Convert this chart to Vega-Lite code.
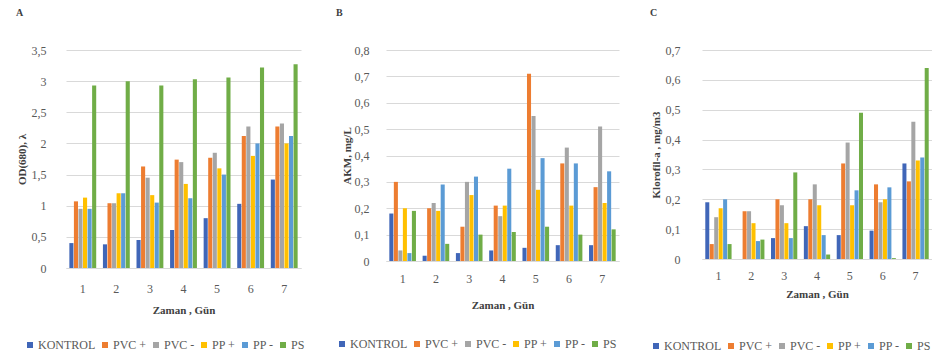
{
  "$schema": "https://vega.github.io/schema/vega-lite/v6.json",
  "padding": {"left": 16, "top": 8, "right": 0, "bottom": 0},
  "spacing": 31,
  "datasets": {
    "all": [
      {"p":"A","d":1,"s":"KONTROL","v":0.4},{"p":"A","d":1,"s":"PVC +","v":1.07},{"p":"A","d":1,"s":"PVC -","v":0.95},{"p":"A","d":1,"s":"PP +","v":1.13},{"p":"A","d":1,"s":"PP -","v":0.95},{"p":"A","d":1,"s":"PS","v":2.93},
      {"p":"A","d":2,"s":"KONTROL","v":0.38},{"p":"A","d":2,"s":"PVC +","v":1.04},{"p":"A","d":2,"s":"PVC -","v":1.04},{"p":"A","d":2,"s":"PP +","v":1.2},{"p":"A","d":2,"s":"PP -","v":1.2},{"p":"A","d":2,"s":"PS","v":3.0},
      {"p":"A","d":3,"s":"KONTROL","v":0.45},{"p":"A","d":3,"s":"PVC +","v":1.63},{"p":"A","d":3,"s":"PVC -","v":1.45},{"p":"A","d":3,"s":"PP +","v":1.17},{"p":"A","d":3,"s":"PP -","v":1.05},{"p":"A","d":3,"s":"PS","v":2.93},
      {"p":"A","d":4,"s":"KONTROL","v":0.61},{"p":"A","d":4,"s":"PVC +","v":1.74},{"p":"A","d":4,"s":"PVC -","v":1.7},{"p":"A","d":4,"s":"PP +","v":1.35},{"p":"A","d":4,"s":"PP -","v":1.12},{"p":"A","d":4,"s":"PS","v":3.03},
      {"p":"A","d":5,"s":"KONTROL","v":0.8},{"p":"A","d":5,"s":"PVC +","v":1.77},{"p":"A","d":5,"s":"PVC -","v":1.85},{"p":"A","d":5,"s":"PP +","v":1.6},{"p":"A","d":5,"s":"PP -","v":1.5},{"p":"A","d":5,"s":"PS","v":3.06},
      {"p":"A","d":6,"s":"KONTROL","v":1.03},{"p":"A","d":6,"s":"PVC +","v":2.12},{"p":"A","d":6,"s":"PVC -","v":2.27},{"p":"A","d":6,"s":"PP +","v":1.8},{"p":"A","d":6,"s":"PP -","v":2.0},{"p":"A","d":6,"s":"PS","v":3.22},
      {"p":"A","d":7,"s":"KONTROL","v":1.42},{"p":"A","d":7,"s":"PVC +","v":2.27},{"p":"A","d":7,"s":"PVC -","v":2.32},{"p":"A","d":7,"s":"PP +","v":2.0},{"p":"A","d":7,"s":"PP -","v":2.12},{"p":"A","d":7,"s":"PS","v":3.27},
      {"p":"B","d":1,"s":"KONTROL","v":0.18},{"p":"B","d":1,"s":"PVC +","v":0.3},{"p":"B","d":1,"s":"PVC -","v":0.04},{"p":"B","d":1,"s":"PP +","v":0.2},{"p":"B","d":1,"s":"PP -","v":0.03},{"p":"B","d":1,"s":"PS","v":0.19},
      {"p":"B","d":2,"s":"KONTROL","v":0.02},{"p":"B","d":2,"s":"PVC +","v":0.2},{"p":"B","d":2,"s":"PVC -","v":0.22},{"p":"B","d":2,"s":"PP +","v":0.19},{"p":"B","d":2,"s":"PP -","v":0.29},{"p":"B","d":2,"s":"PS","v":0.065},
      {"p":"B","d":3,"s":"KONTROL","v":0.03},{"p":"B","d":3,"s":"PVC +","v":0.13},{"p":"B","d":3,"s":"PVC -","v":0.3},{"p":"B","d":3,"s":"PP +","v":0.25},{"p":"B","d":3,"s":"PP -","v":0.32},{"p":"B","d":3,"s":"PS","v":0.1},
      {"p":"B","d":4,"s":"KONTROL","v":0.04},{"p":"B","d":4,"s":"PVC +","v":0.21},{"p":"B","d":4,"s":"PVC -","v":0.17},{"p":"B","d":4,"s":"PP +","v":0.21},{"p":"B","d":4,"s":"PP -","v":0.35},{"p":"B","d":4,"s":"PS","v":0.11},
      {"p":"B","d":5,"s":"KONTROL","v":0.05},{"p":"B","d":5,"s":"PVC +","v":0.71},{"p":"B","d":5,"s":"PVC -","v":0.55},{"p":"B","d":5,"s":"PP +","v":0.27},{"p":"B","d":5,"s":"PP -","v":0.39},{"p":"B","d":5,"s":"PS","v":0.13},
      {"p":"B","d":6,"s":"KONTROL","v":0.06},{"p":"B","d":6,"s":"PVC +","v":0.37},{"p":"B","d":6,"s":"PVC -","v":0.43},{"p":"B","d":6,"s":"PP +","v":0.21},{"p":"B","d":6,"s":"PP -","v":0.37},{"p":"B","d":6,"s":"PS","v":0.1},
      {"p":"B","d":7,"s":"KONTROL","v":0.06},{"p":"B","d":7,"s":"PVC +","v":0.28},{"p":"B","d":7,"s":"PVC -","v":0.51},{"p":"B","d":7,"s":"PP +","v":0.22},{"p":"B","d":7,"s":"PP -","v":0.34},{"p":"B","d":7,"s":"PS","v":0.12},
      {"p":"C","d":1,"s":"KONTROL","v":0.19},{"p":"C","d":1,"s":"PVC +","v":0.05},{"p":"C","d":1,"s":"PVC -","v":0.14},{"p":"C","d":1,"s":"PP +","v":0.17},{"p":"C","d":1,"s":"PP -","v":0.2},{"p":"C","d":1,"s":"PS","v":0.05},
      {"p":"C","d":2,"s":"KONTROL","v":0.0},{"p":"C","d":2,"s":"PVC +","v":0.16},{"p":"C","d":2,"s":"PVC -","v":0.16},{"p":"C","d":2,"s":"PP +","v":0.12},{"p":"C","d":2,"s":"PP -","v":0.06},{"p":"C","d":2,"s":"PS","v":0.065},
      {"p":"C","d":3,"s":"KONTROL","v":0.07},{"p":"C","d":3,"s":"PVC +","v":0.2},{"p":"C","d":3,"s":"PVC -","v":0.18},{"p":"C","d":3,"s":"PP +","v":0.12},{"p":"C","d":3,"s":"PP -","v":0.07},{"p":"C","d":3,"s":"PS","v":0.29},
      {"p":"C","d":4,"s":"KONTROL","v":0.11},{"p":"C","d":4,"s":"PVC +","v":0.2},{"p":"C","d":4,"s":"PVC -","v":0.25},{"p":"C","d":4,"s":"PP +","v":0.18},{"p":"C","d":4,"s":"PP -","v":0.08},{"p":"C","d":4,"s":"PS","v":0.015},
      {"p":"C","d":5,"s":"KONTROL","v":0.08},{"p":"C","d":5,"s":"PVC +","v":0.32},{"p":"C","d":5,"s":"PVC -","v":0.39},{"p":"C","d":5,"s":"PP +","v":0.18},{"p":"C","d":5,"s":"PP -","v":0.23},{"p":"C","d":5,"s":"PS","v":0.49},
      {"p":"C","d":6,"s":"KONTROL","v":0.095},{"p":"C","d":6,"s":"PVC +","v":0.25},{"p":"C","d":6,"s":"PVC -","v":0.19},{"p":"C","d":6,"s":"PP +","v":0.2},{"p":"C","d":6,"s":"PP -","v":0.24},{"p":"C","d":6,"s":"PS","v":0.003},
      {"p":"C","d":7,"s":"KONTROL","v":0.32},{"p":"C","d":7,"s":"PVC +","v":0.26},{"p":"C","d":7,"s":"PVC -","v":0.46},{"p":"C","d":7,"s":"PP +","v":0.33},{"p":"C","d":7,"s":"PP -","v":0.34},{"p":"C","d":7,"s":"PS","v":0.64}
    ]
  },
  "data": {"name": "all"},
  "config": {
    "locale": {"number": {"decimal": ",", "thousands": ".", "grouping": [3], "currency": ["", ""]}},
    "view": {"stroke": null},
    "font": "Liberation Serif",
    "axis": {"labelFont": "Liberation Serif", "labelFontSize": 12, "labelColor": "#595959", "titleFont": "Liberation Serif", "titleFontSize": 11, "titleFontWeight": "bold", "titleColor": "#404040"},
    "axisX": {"labelAngle": 0, "ticks": false, "domainColor": "#d9d9d9", "grid": false},
    "axisY": {"domain": false, "ticks": false, "gridColor": "#d9d9d9"},
    "legend": {"labelFont": "Liberation Serif", "labelFontSize": 12, "labelColor": "#595959", "symbolType": "square", "symbolSize": 36, "symbolStrokeWidth": 0, "columnPadding": 3, "labelOffset": 2, "direction": "horizontal", "orient": "none", "gridAlign": "none"},
    "title": {"font": "Liberation Serif", "fontSize": 10, "fontWeight": "bold", "color": "#404040", "anchor": "start", "frame": "bounds", "offset": 26}
  },
  "resolve": {"scale": {"color": "independent", "x": "independent", "y": "independent", "xOffset": "independent"}, "legend": {"color": "independent"}},
  "hconcat": [
    {
      "title": {"text": "A"},
      "width": 235, "height": 218,
      "transform": [{"filter": "datum.p === 'A'"}],
      "mark": {"type": "bar"},
      "encoding": {
        "x": {"field": "d", "type": "ordinal", "scale": {"paddingInner": 0.2, "paddingOuter": 0.1}, "axis": {"title": "Zaman , Gün", "labelPadding": 15, "titlePadding": 10}},
        "xOffset": {"field": "s", "sort": ["KONTROL", "PVC +", "PVC -", "PP +", "PP -", "PS"], "scale": {"paddingInner": 0.1}},
        "y": {"field": "v", "type": "quantitative", "scale": {"domain": [0, 3.5], "nice": false}, "axis": {"title": "OD(680), λ", "values": [0, 0.5, 1, 1.5, 2, 2.5, 3, 3.5], "format": ".1~f", "labelPadding": 20, "titlePadding": 4}},
        "color": {"field": "s", "type": "nominal", "scale": {"domain": ["KONTROL", "PVC +", "PVC -", "PP +", "PP -", "PS"], "range": ["#4066b8", "#ED7D31", "#A5A5A5", "#FFC000", "#5B9BD5", "#70AD47"]}, "legend": {"title": null, "legendX": -42, "legendY": 289, "labelFont": "Liberation Serif", "gridAlign": "none"}}
      }
    },
    {
      "title": {"text": "B"},
      "width": 233, "height": 211,
      "transform": [{"filter": "datum.p === 'B'"}],
      "mark": {"type": "bar"},
      "encoding": {
        "x": {"field": "d", "type": "ordinal", "scale": {"paddingInner": 0.2, "paddingOuter": 0.1}, "axis": {"title": "Zaman , Gün", "labelPadding": 12, "titlePadding": 15}},
        "xOffset": {"field": "s", "sort": ["KONTROL", "PVC +", "PVC -", "PP +", "PP -", "PS"], "scale": {"paddingInner": 0.1}},
        "y": {"field": "v", "type": "quantitative", "scale": {"domain": [0, 0.8], "nice": false}, "axis": {"title": "AKM, mg/L", "values": [0, 0.1, 0.2, 0.3, 0.4, 0.5, 0.6, 0.7, 0.8], "format": ".1~f", "labelPadding": 17, "titlePadding": 2}},
        "color": {"field": "s", "type": "nominal", "scale": {"domain": ["KONTROL", "PVC +", "PVC -", "PP +", "PP -", "PS"], "range": ["#4066b8", "#ED7D31", "#A5A5A5", "#FFC000", "#5B9BD5", "#70AD47"]}, "legend": {"title": null, "legendX": -50, "legendY": 288, "labelFont": "Liberation Serif", "gridAlign": "none"}}
      }
    },
    {
      "title": {"text": "C"},
      "width": 230, "height": 209,
      "transform": [{"filter": "datum.p === 'C'"}],
      "mark": {"type": "bar"},
      "encoding": {
        "x": {"field": "d", "type": "ordinal", "scale": {"paddingInner": 0.2, "paddingOuter": 0.1}, "axis": {"title": "Zaman , Gün", "labelPadding": 11, "titlePadding": 7}},
        "xOffset": {"field": "s", "sort": ["KONTROL", "PVC +", "PVC -", "PP +", "PP -", "PS"], "scale": {"paddingInner": 0.1}},
        "y": {"field": "v", "type": "quantitative", "scale": {"domain": [0, 0.7], "nice": false}, "axis": {"title": "Klorofil-a , mg/m3", "values": [0, 0.1, 0.2, 0.3, 0.4, 0.5, 0.6, 0.7], "format": ".1~f", "labelPadding": 22, "titlePadding": 4}},
        "color": {"field": "s", "type": "nominal", "scale": {"domain": ["KONTROL", "PVC +", "PVC -", "PP +", "PP -", "PS"], "range": ["#4066b8", "#ED7D31", "#A5A5A5", "#FFC000", "#5B9BD5", "#70AD47"]}, "legend": {"title": null, "legendX": -52, "legendY": 290, "labelFont": "Liberation Serif", "gridAlign": "none"}}
      }
    }
  ]
}
